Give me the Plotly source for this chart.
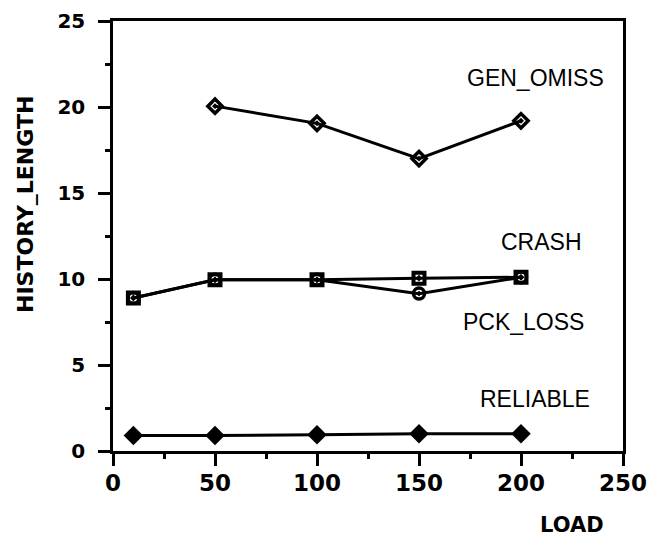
import plotly.graph_objects as go

load_all = [10, 50, 100, 150, 200]
load_gen = [50, 100, 150, 200]

gen_omiss = [20.05, 19.05, 17.0, 19.2]
crash = [8.9, 9.95, 9.95, 10.05, 10.1]
pck_loss = [8.9, 9.95, 9.95, 9.15, 10.1]
reliable = [0.9, 0.9, 0.95, 1.0, 1.0]

series_labels = ["GEN_OMISS", "CRASH", "PCK_LOSS", "RELIABLE"]
label_pos = [(207, 21.7), (210, 12.15), (201, 7.5), (207, 3.05)]

fig = go.Figure()
lw = 3
fig.add_trace(go.Scatter(x=load_gen, y=gen_omiss, mode="lines+markers",
                         line=dict(color="black", width=lw),
                         marker=dict(symbol="diamond-open-dot", size=11, color="black",
                                     line=dict(width=3.5, color="black"))))
fig.add_trace(go.Scatter(x=load_all, y=pck_loss, mode="lines+markers",
                         line=dict(color="black", width=lw),
                         marker=dict(symbol="circle-open-dot", size=11, color="black",
                                     line=dict(width=3.5, color="black"))))
fig.add_trace(go.Scatter(x=load_all, y=crash, mode="lines+markers",
                         line=dict(color="black", width=lw),
                         marker=dict(symbol="square-open-dot", size=11, color="black",
                                     line=dict(width=4, color="black"))))
fig.add_trace(go.Scatter(x=load_all, y=reliable, mode="lines+markers",
                         line=dict(color="black", width=lw),
                         marker=dict(symbol="diamond", size=15, color="black")))

for txt, (x, y) in zip(series_labels, label_pos):
    fig.add_annotation(x=x, y=y, text=txt, showarrow=False,
                       font=dict(family="Liberation Sans, Arial", size=23, color="black"))

fig.add_annotation(xref="paper", yref="paper", x=(572 - 113) / 510, y=-(525 - 451) / 430,
                   text="LOAD", showarrow=False,
                   font=dict(family="DejaVu Sans", size=21, color="black", weight="bold"),
                   xanchor="center", yanchor="middle")
fig.add_annotation(xref="paper", yref="paper", x=-(113 - 25) / 510, y=(451 - 205) / 430,
                   text="HISTORY_LENGTH", showarrow=False, textangle=-90,
                   font=dict(family="DejaVu Sans", size=22, color="black", weight="bold"),
                   xanchor="center", yanchor="middle")

fig.update_layout(
    width=649, height=536,
    margin=dict(l=113, r=26, t=21, b=85),
    paper_bgcolor="white", plot_bgcolor="white",
    showlegend=False,
)
fig.update_xaxes(range=[0, 250], dtick=50, tick0=0, showgrid=False, zeroline=False,
                 automargin=False,
                 showline=True, mirror=True, linecolor="black", linewidth=2.5,
                 ticks="outside", ticklen=12, tickwidth=2.5, tickcolor="black",
                 minor=dict(dtick=25, ticks="outside", ticklen=5, tickwidth=2.5, tickcolor="black"),
                 ticklabelstandoff=-2,
                 tickfont=dict(family="DejaVu Sans", size=23, color="black", weight="bold"))
fig.update_yaxes(range=[0, 25], dtick=5, tick0=0, showgrid=False, zeroline=False,
                 automargin=False,
                 showline=True, mirror=True, linecolor="black", linewidth=2.5,
                 ticks="outside", ticklen=12, tickwidth=2.5, tickcolor="black",
                 minor=dict(dtick=2.5, ticks="outside", ticklen=5, tickwidth=2.5, tickcolor="black"),
                 ticklabelstandoff=9,
                 tickfont=dict(family="DejaVu Sans", size=20, color="black", weight="bold"))

fig.write_html("out.html", config={"displayModeBar": False},
               post_script="document.body.style.margin='0';document.body.style.overflow='hidden';")
